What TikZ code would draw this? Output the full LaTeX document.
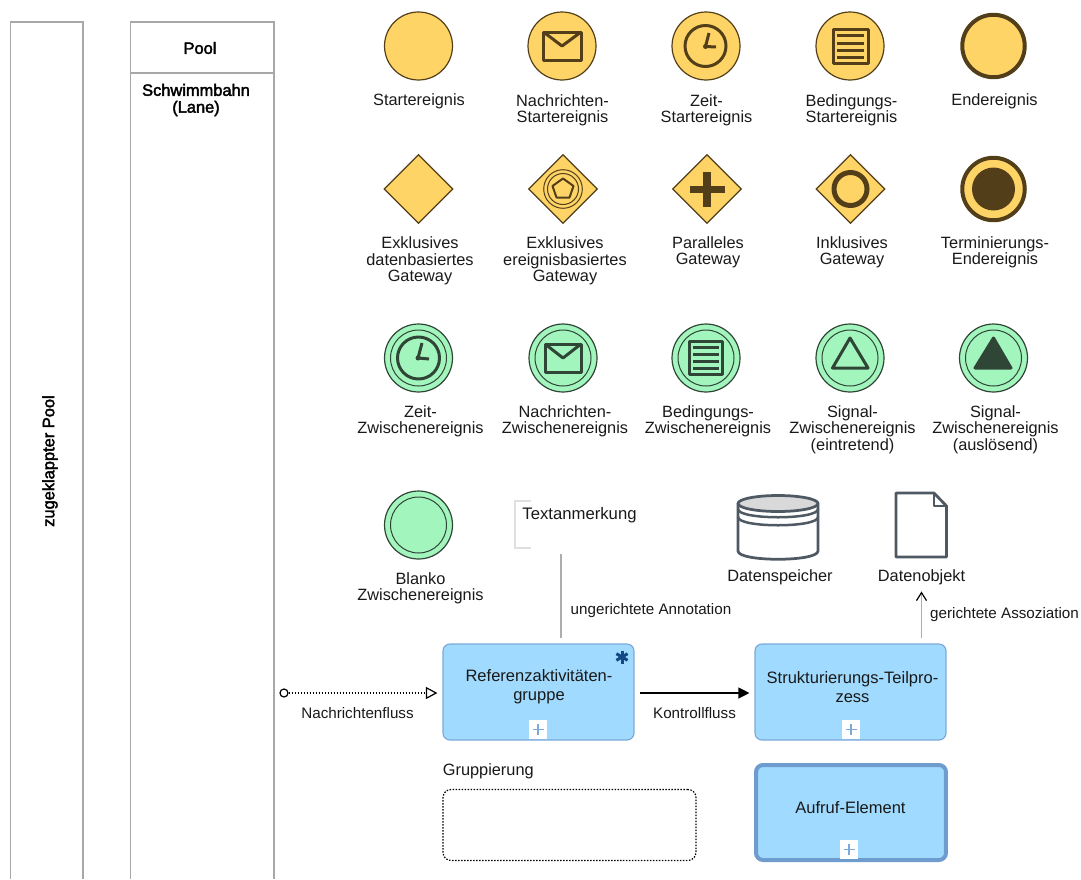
\documentclass[tikz,border=0pt]{standalone}
\usepackage{fontspec}
\setmainfont{Liberation Sans}
\newfontfamily\poolfont[FakeBold=2.4]{Liberation Sans}
\usetikzlibrary{arrows.meta,shapes.geometric}
\definecolor{eventyellow}{HTML}{FFD466}
\definecolor{eventbrown}{HTML}{523F1A}
\definecolor{intergreen}{HTML}{A3F5BE}
\definecolor{interdark}{HTML}{2F4536}
\definecolor{taskblue}{HTML}{A0DBFF}
\definecolor{taskborder}{HTML}{7DA9D9}
\definecolor{callborder}{HTML}{6E9CCF}
\definecolor{dataslate}{HTML}{4E5964}
\definecolor{poolgray}{HTML}{A8A8A8}
\definecolor{markernavy}{HTML}{124A85}
\tikzset{
    startevent/.style={circle, draw=eventbrown, fill=eventyellow, line width=0.024cm, minimum size=1.36cm, inner sep=0},
    endevent/.style={circle, draw=eventbrown, fill=eventyellow, line width=0.08cm, minimum size=1.25cm, inner sep=0},
    interevent/.style={circle, draw=interdark, fill=intergreen, line width=0.024cm, minimum size=1.36cm, inner sep=0},
    gateway/.style={diamond, draw=eventbrown, fill=eventyellow, line width=0.024cm, minimum size=1.38cm, inner sep=0, aspect=1},
    tasknode/.style={rectangle, rounded corners=0.14cm, draw=taskborder, fill=taskblue, line width=0.024cm, minimum width=3.82cm, minimum height=1.92cm, inner sep=0},
    plusbox/.style={rectangle, fill=white, minimum width=0.36cm, minimum height=0.38cm, inner sep=0},
    iconline/.style={draw=eventbrown, line width=0.06cm, line join=round},
    interline/.style={draw=interdark, line width=0.06cm, line join=round},
    dataline/.style={draw=dataslate, line width=0.055cm, line join=round},
    lbl/.style={font=\fontsize{9.3}{9.35}\selectfont, align=center, inner sep=0, text=black!90},
    tasklbl/.style={font=\fontsize{9.4}{10.8}\selectfont, align=center, inner sep=0, text=black!90},
    smalllbl/.style={font=\fontsize{8.65}{9.3}\selectfont, align=center, inner sep=0, text=black!90},
    poollbl/.style={font=\poolfont\fontsize{9.35}{9.6}\selectfont, align=center, inner sep=0},
    flowdots/.style={dash pattern=on 0.03cm off 0.03cm, line width=0.024cm},
}
\begin{document}
\begin{tikzpicture}[x=0.02cm, y=-0.02cm]
        \useasboundingbox (0,0) rectangle (1081,879);

        % Collapsed pool, open at the page bottom
        \draw [draw=poolgray, line width=0.024cm] (10.5,879) -- (10.5,22) -- (83,22) -- (83,879);
        \node (collapsedlbl) [poollbl, rotate=90] at (50,461) {zugeklappter Pool};

        % Pool with one lane
        \draw [draw=poolgray, line width=0.024cm] (130.5,879) -- (130.5,22) -- (274,22) -- (274,879);
        \draw [draw=poolgray, line width=0.024cm] (130.5,73) -- (274,73);
        \node (poollbl) [poollbl] at (200,48) {Pool};
        \node (lanelbl) [poollbl] at (196,100) {Schwimmbahn\\(Lane)};

        % Row 1: start events and end event
        \node (startev) [startevent] at (418.5,46) {};
        \node (startevlbl) [lbl] at (419,101.5) {Startereignis};

        \node (msgstart) [startevent] at (562,46) {};
        \draw [iconline] (543.5,32) rectangle (581,60.5);
        \draw [iconline] (543.5,32) -- (562,46) -- (581,32);
        \node (msgstartlbl) [lbl] at (562.5,110) {Nachrichten-\\Startereignis};

        \node (timestart) [startevent] at (706,46) {};
        \draw [iconline] (705.5,46) circle (20.5);
        \draw [iconline] (709,33) -- (705.5,46.5) -- (716,47);
        \fill [eventbrown] (705.5,46.5) circle (2.5);
        \node (timestartlbl) [lbl] at (706.5,110) {Zeit-\\Startereignis};

        \node (condstart) [startevent] at (850,46) {};
        \draw [iconline] (833,29.5) rectangle (868,63.5);
        \draw [iconline] (837,35.5) -- (864,35.5);
        \draw [iconline] (837,43) -- (864,43);
        \draw [iconline] (837,50) -- (864,50);
        \draw [iconline] (837,57.5) -- (864,57.5);
        \node (condstartlbl) [lbl] at (851.5,110) {Bedingungs-\\Startereignis};

        \node (endev) [endevent] at (993.5,46) {};
        \node (endevlbl) [lbl] at (994.5,101.5) {Endereignis};

        % Row 2: gateways and terminating end event
        \node (xorgw) [gateway] at (418.5,189) {};
        \node (xorgwlbl) [lbl] at (420,261) {Exklusives\\datenbasiertes\\Gateway};

        \node (evgw) [gateway] at (563,189) {};
        \draw [draw=eventbrown, line width=0.02cm] (563,189) circle (19.3);
        \draw [draw=eventbrown, line width=0.02cm] (563,189) circle (15.5);
        \draw [draw=eventbrown, line width=0.04cm, line join=round] (563,178.5) -- (573.5,186) -- (569.5,197.5) -- (556.5,197.5) -- (552.5,186) -- cycle;
        \node (evgwlbl) [lbl] at (565,261) {Exklusives\\ereignisbasiertes\\Gateway};

        \node (pargw) [gateway] at (707,189) {};
        \fill [eventbrown] (703,171.5) rectangle (711,206.5);
        \fill [eventbrown] (689.5,185.5) rectangle (724.5,193);
        \node (pargwlbl) [lbl] at (708,252.5) {Paralleles\\Gateway};

        \node (orgw) [gateway] at (850.5,189) {};
        \draw [draw=eventbrown, line width=0.1cm] (850.5,189) circle (16.5);
        \node (orgwlbl) [lbl] at (852,252.5) {Inklusives\\Gateway};

        \node (termev) [endevent] at (993.5,189) {};
        \fill [eventbrown] (993.5,189) circle (21.5);
        \node (termevlbl) [lbl] at (995,252.5) {Terminierungs-\\Endereignis};

        % Row 3: intermediate events
        \node (timeint) [interevent] at (418.5,358) {};
        \draw [draw=interdark, line width=0.02cm] (418.5,358) circle (28);
        \draw [interline] (418.5,358) circle (21);
        \draw [interline] (422,343) -- (418,358) -- (429,359);
        \fill [interdark] (418,358) circle (2.5);
        \node (timeintlbl) [lbl] at (420.5,421.5) {Zeit-\\Zwischenereignis};

        \node (msgint) [interevent] at (563,358) {};
        \draw [draw=interdark, line width=0.02cm] (563,358) circle (28);
        \draw [interline] (545,344) rectangle (581,372);
        \draw [interline] (545,344) -- (563,358) -- (581,344);
        \node (msgintlbl) [lbl] at (565,421.5) {Nachrichten-\\Zwischenereignis};

        \node (condint) [interevent] at (706,358) {};
        \draw [draw=interdark, line width=0.02cm] (706,358) circle (28);
        \draw [interline] (689.5,341.5) rectangle (722.5,374);
        \draw [interline] (693,347.5) -- (719,347.5);
        \draw [interline] (693,354.5) -- (719,354.5);
        \draw [interline] (693,361) -- (719,361);
        \draw [interline] (693,368) -- (719,368);
        \node (condintlbl) [lbl] at (708,421.5) {Bedingungs-\\Zwischenereignis};

        \node (sigcatch) [interevent] at (850,358) {};
        \draw [draw=interdark, line width=0.02cm] (850,358) circle (28);
        \draw [interline] (850,338) -- (868,368) -- (832.5,368) -- cycle;
        \node (sigcatchlbl) [lbl] at (852.5,429.5) {Signal-\\Zwischenereignis\\(eintretend)};

        \node (sigthrow) [interevent] at (993.5,358) {};
        \draw [draw=interdark, line width=0.02cm] (993.5,358) circle (28);
        \draw [interline, fill=interdark] (993.5,338) -- (1011,368) -- (975,368) -- cycle;
        \node (sigthrowlbl) [lbl] at (995.5,429.5) {Signal-\\Zwischenereignis\\(auslösend)};

        % Row 4: blank event, annotation, data store, data object
        \node (blankint) [interevent] at (418.5,525) {};
        \draw [draw=interdark, line width=0.02cm] (418.5,525) circle (28);
        \node (blankintlbl) [lbl] at (420.5,588.5) {Blanko\\Zwischenereignis};

        \node (annolbl) [lbl, font=\fontsize{9.5}{9.5}\selectfont] at (579.5,515) {Textanmerkung};
        \node (annobox) [minimum width=1.84cm, minimum height=0.94cm, inner sep=0] at (561,524.5) {};
        \draw [draw=black!12, line width=0.024cm] (531,501) -- (515,501) -- (515,548) -- (531,548);

        \draw [dataline] (738,503) -- (738,551) .. controls (738,562) and (818,562) .. (818,551) -- (818,503);
        \draw [dataline, fill=black!15] (778,503.5) ellipse (40 and 8);
        \draw [dataline, line width=0.05cm] (738,509) .. controls (738,520) and (818,520) .. (818,509);
        \draw [dataline, line width=0.05cm] (738,517) .. controls (738,528) and (818,528) .. (818,517);
        \node (storelbl) [lbl] at (780,577.5) {Datenspeicher};

        \draw [dataline] (896,493) -- (934,493) -- (946.5,506) -- (946.5,557) -- (896,557) -- cycle;
        \draw [dataline, line width=0.04cm] (934,493) -- (934,506) -- (946.5,506);
        \node (objlbl) [lbl] at (921.5,577.5) {Datenobjekt};

        % Activities
        \node (refgroup) [tasknode] at (538.5,692) {};
        \node (refgrouplbl) [tasklbl] at (539,687) {Referenzaktivitäten-\\gruppe};
        \node (refplus) [plusbox] at (538,729.5) {};
        \draw [draw=taskborder, line width=0.024cm] (532.5,729.5) -- (543.5,729.5);
        \draw [draw=taskborder, line width=0.024cm] (538,724) -- (538,735);
        \draw [draw=markernavy, line width=0.06cm] (622,650.5) -- (622,663.5);
        \draw [draw=markernavy, line width=0.06cm] (616.4,653.7) -- (627.6,660.3);
        \draw [draw=markernavy, line width=0.06cm] (616.4,660.3) -- (627.6,653.7);

        \node (subproc) [tasknode] at (850.5,692) {};
        \node (subproclbl) [tasklbl] at (852.5,687) {Strukturierungs-Teilpro-\\zess};
        \node (subplus) [plusbox] at (851,729.5) {};
        \draw [draw=taskborder, line width=0.024cm] (845.5,729.5) -- (856.5,729.5);
        \draw [draw=taskborder, line width=0.024cm] (851,724) -- (851,735);

        \node (callact) [tasknode, draw=callborder, line width=0.08cm, minimum width=3.8cm, minimum height=1.9cm] at (851,812.5) {};
        \node (callactlbl) [tasklbl] at (850.5,807.5) {Aufruf-Element};
        \node (callplus) [plusbox] at (849,849.5) {};
        \draw [draw=taskborder, line width=0.024cm] (843.5,849.5) -- (854.5,849.5);
        \draw [draw=taskborder, line width=0.024cm] (849,844) -- (849,855);

        % Group
        \node (grouplbl) [lbl, anchor=west] at (442.5,771.5) {Gruppierung};
        \node (groupbox) [rectangle, rounded corners=0.16cm, draw=black, flowdots, minimum width=5.06cm, minimum height=1.42cm, inner sep=0] at (569.5,825) {};

        % Flows
        \node (flowstart) [circle, draw=black, line width=0.024cm, minimum size=0.16cm, inner sep=0] at (284,693) {};
        \draw [flowdots, -{Triangle[open, length=0.23cm, width=0.24cm, sep=0pt]}, shorten >=0.1cm] (flowstart) -- (flowstart -| refgroup.west);
        \node (flowlbl) [smalllbl] at (357.5,713) {Nachrichtenfluss};

        \draw [line width=0.024cm, -{Triangle[length=0.22cm, width=0.22cm]}, shorten <=0.1cm, shorten >=0.1cm] (flowstart -| refgroup.east) -- (flowstart -| subproc.west);
        \node (ctrllbl) [smalllbl] at (694.5,713) {Kontrollfluss};

        \draw [draw=black!32, line width=0.024cm, shorten <=0.12cm, shorten >=0.1cm] (annobox.south) -- (annobox.south |- refgroup.north);
        \node (undirlbl) [smalllbl] at (651,610.5) {ungerichtete Annotation};

        \draw [draw=black!32, line width=0.024cm, -{Straight Barb[black, length=0.16cm, width=0.2cm]}, shorten <=0.1cm, shorten >=0.12cm] (objlbl |- subproc.north) -- (objlbl.south);
        \node (dirlbl) [smalllbl] at (1004.5,614.5) {gerichtete Assoziation};
\end{tikzpicture}
\end{document}
